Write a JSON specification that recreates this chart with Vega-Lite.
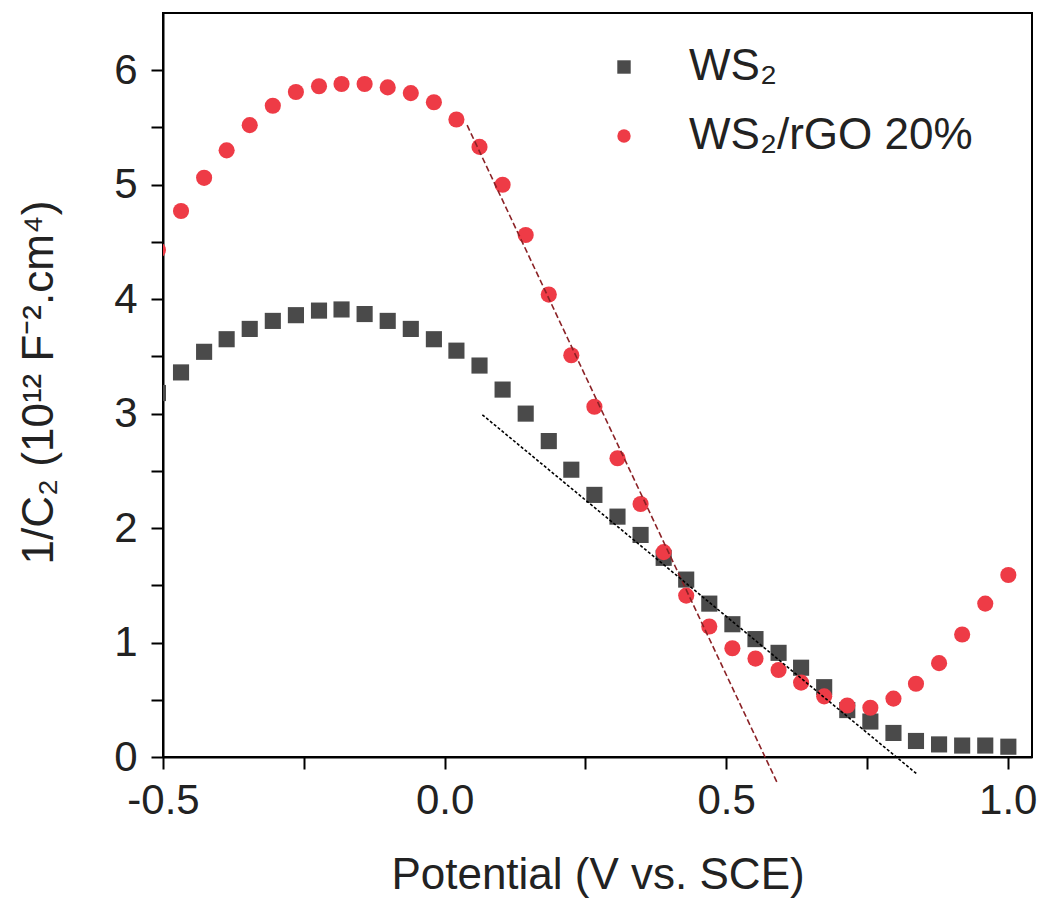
{
  "$schema": "https://vega.github.io/schema/vega-lite/v6.json",
  "width": 869,
  "height": 744,
  "autosize": {"type": "none"},
  "padding": {"left": 163, "top": 13, "right": 8, "bottom": 144},
  "background": "white",
  "config": {
    "view": {"stroke": "black", "strokeWidth": 2},
    "font": "Liberation Sans",
    "axis": {
      "grid": false,
      "domainColor": "black",
      "domainWidth": 2,
      "tickColor": "black",
      "tickWidth": 2,
      "tickSize": 12,
      "labelFont": "Liberation Sans",
      "labelFontSize": 42,
      "labelColor": "#222",
      "titleFont": "Liberation Sans",
      "titleFontSize": 44,
      "titleFontWeight": "normal",
      "titleColor": "#222"
    }
  },
  "datasets": {
    "pts": [
      {"sample": "WS₂", "potential": -0.509, "invC2": 3.18},
      {"sample": "WS₂", "potential": -0.468, "invC2": 3.36},
      {"sample": "WS₂", "potential": -0.427, "invC2": 3.54},
      {"sample": "WS₂", "potential": -0.387, "invC2": 3.65},
      {"sample": "WS₂", "potential": -0.346, "invC2": 3.74},
      {"sample": "WS₂", "potential": -0.305, "invC2": 3.81},
      {"sample": "WS₂", "potential": -0.264, "invC2": 3.86},
      {"sample": "WS₂", "potential": -0.223, "invC2": 3.90},
      {"sample": "WS₂", "potential": -0.183, "invC2": 3.91},
      {"sample": "WS₂", "potential": -0.142, "invC2": 3.87},
      {"sample": "WS₂", "potential": -0.101, "invC2": 3.81},
      {"sample": "WS₂", "potential": -0.060, "invC2": 3.74},
      {"sample": "WS₂", "potential": -0.019, "invC2": 3.65},
      {"sample": "WS₂", "potential": 0.021, "invC2": 3.55},
      {"sample": "WS₂", "potential": 0.062, "invC2": 3.42},
      {"sample": "WS₂", "potential": 0.103, "invC2": 3.21},
      {"sample": "WS₂", "potential": 0.144, "invC2": 3.00},
      {"sample": "WS₂", "potential": 0.185, "invC2": 2.76},
      {"sample": "WS₂", "potential": 0.225, "invC2": 2.51},
      {"sample": "WS₂", "potential": 0.266, "invC2": 2.29},
      {"sample": "WS₂", "potential": 0.307, "invC2": 2.10},
      {"sample": "WS₂", "potential": 0.348, "invC2": 1.94},
      {"sample": "WS₂", "potential": 0.389, "invC2": 1.74},
      {"sample": "WS₂", "potential": 0.429, "invC2": 1.55},
      {"sample": "WS₂", "potential": 0.470, "invC2": 1.34},
      {"sample": "WS₂", "potential": 0.511, "invC2": 1.16},
      {"sample": "WS₂", "potential": 0.552, "invC2": 1.03},
      {"sample": "WS₂", "potential": 0.593, "invC2": 0.91},
      {"sample": "WS₂", "potential": 0.633, "invC2": 0.78},
      {"sample": "WS₂", "potential": 0.674, "invC2": 0.61},
      {"sample": "WS₂", "potential": 0.715, "invC2": 0.41},
      {"sample": "WS₂", "potential": 0.756, "invC2": 0.31},
      {"sample": "WS₂", "potential": 0.797, "invC2": 0.21},
      {"sample": "WS₂", "potential": 0.837, "invC2": 0.14},
      {"sample": "WS₂", "potential": 0.878, "invC2": 0.11},
      {"sample": "WS₂", "potential": 0.919, "invC2": 0.10},
      {"sample": "WS₂", "potential": 0.960, "invC2": 0.10},
      {"sample": "WS₂", "potential": 1.001, "invC2": 0.09},
      {"sample": "WS₂/rGO 20%", "potential": -0.509, "invC2": 4.43},
      {"sample": "WS₂/rGO 20%", "potential": -0.468, "invC2": 4.77},
      {"sample": "WS₂/rGO 20%", "potential": -0.427, "invC2": 5.06},
      {"sample": "WS₂/rGO 20%", "potential": -0.387, "invC2": 5.30},
      {"sample": "WS₂/rGO 20%", "potential": -0.346, "invC2": 5.52},
      {"sample": "WS₂/rGO 20%", "potential": -0.305, "invC2": 5.69},
      {"sample": "WS₂/rGO 20%", "potential": -0.264, "invC2": 5.81},
      {"sample": "WS₂/rGO 20%", "potential": -0.223, "invC2": 5.86},
      {"sample": "WS₂/rGO 20%", "potential": -0.183, "invC2": 5.88},
      {"sample": "WS₂/rGO 20%", "potential": -0.142, "invC2": 5.88},
      {"sample": "WS₂/rGO 20%", "potential": -0.101, "invC2": 5.85},
      {"sample": "WS₂/rGO 20%", "potential": -0.060, "invC2": 5.80},
      {"sample": "WS₂/rGO 20%", "potential": -0.019, "invC2": 5.72},
      {"sample": "WS₂/rGO 20%", "potential": 0.021, "invC2": 5.57},
      {"sample": "WS₂/rGO 20%", "potential": 0.062, "invC2": 5.33},
      {"sample": "WS₂/rGO 20%", "potential": 0.103, "invC2": 5.00},
      {"sample": "WS₂/rGO 20%", "potential": 0.144, "invC2": 4.56},
      {"sample": "WS₂/rGO 20%", "potential": 0.185, "invC2": 4.04},
      {"sample": "WS₂/rGO 20%", "potential": 0.225, "invC2": 3.51},
      {"sample": "WS₂/rGO 20%", "potential": 0.266, "invC2": 3.06},
      {"sample": "WS₂/rGO 20%", "potential": 0.307, "invC2": 2.61},
      {"sample": "WS₂/rGO 20%", "potential": 0.348, "invC2": 2.21},
      {"sample": "WS₂/rGO 20%", "potential": 0.389, "invC2": 1.79},
      {"sample": "WS₂/rGO 20%", "potential": 0.429, "invC2": 1.41},
      {"sample": "WS₂/rGO 20%", "potential": 0.470, "invC2": 1.14},
      {"sample": "WS₂/rGO 20%", "potential": 0.511, "invC2": 0.95},
      {"sample": "WS₂/rGO 20%", "potential": 0.552, "invC2": 0.86},
      {"sample": "WS₂/rGO 20%", "potential": 0.593, "invC2": 0.76},
      {"sample": "WS₂/rGO 20%", "potential": 0.633, "invC2": 0.65},
      {"sample": "WS₂/rGO 20%", "potential": 0.674, "invC2": 0.53},
      {"sample": "WS₂/rGO 20%", "potential": 0.715, "invC2": 0.45},
      {"sample": "WS₂/rGO 20%", "potential": 0.756, "invC2": 0.43},
      {"sample": "WS₂/rGO 20%", "potential": 0.797, "invC2": 0.51},
      {"sample": "WS₂/rGO 20%", "potential": 0.837, "invC2": 0.64},
      {"sample": "WS₂/rGO 20%", "potential": 0.878, "invC2": 0.82},
      {"sample": "WS₂/rGO 20%", "potential": 0.919, "invC2": 1.07},
      {"sample": "WS₂/rGO 20%", "potential": 0.960, "invC2": 1.34},
      {"sample": "WS₂/rGO 20%", "potential": 1.001, "invC2": 1.59}
    ],
    "fits": [
      {"fit": "rGO", "potential": 0.040, "invC2": 5.52},
      {"fit": "rGO", "potential": 0.592, "invC2": -0.24},
      {"fit": "WS2", "potential": 0.067, "invC2": 2.99},
      {"fit": "WS2", "potential": 0.839, "invC2": -0.15}
    ]
  },
  "layer": [
    {
      "data": {"name": "pts"},
      "mark": {"type": "point", "filled": true, "opacity": 1, "size": 260, "clip": true},
      "encoding": {
        "x": {
          "field": "potential",
          "type": "quantitative",
          "scale": {"domain": [-0.5, 1.043], "nice": false, "zero": false},
          "axis": {
            "values": [-0.5, -0.25, 0, 0.25, 0.5, 0.75, 1],
            "labelExpr": "abs(datum.value*2-round(datum.value*2))<0.01 ? (datum.value < 0 ? '-' : '') + format(abs(datum.value), '.1f') : ''",
            "labelPadding": 11,
            "labelFlush": false,
            "title": "Potential (V vs. SCE)",
            "titleY": 118,
            "titleBaseline": "middle",
            "encode": {"ticks": {"update": {"y2": {"signal": "abs(datum.value*2-round(datum.value*2))<0.01 ? 12 : 7"}}}}
          }
        },
        "y": {
          "field": "invC2",
          "type": "quantitative",
          "scale": {"domain": [0, 6.5], "nice": false},
          "axis": {
            "values": [0, 0.5, 1, 1.5, 2, 2.5, 3, 3.5, 4, 4.5, 5, 5.5, 6],
            "labelExpr": "abs(datum.value-round(datum.value))<0.01 ? format(datum.value, 'd') : ''",
            "labelPadding": 14,
            "labelFlush": false,
            "title": "1/C₂ (10¹² F⁻².cm⁴)",
            "titleX": -124,
            "titleY": 369,
            "titleAngle": -90,
            "titleAlign": "center",
            "titleBaseline": "middle",
            "encode": {"ticks": {"update": {"x2": {"signal": "abs(datum.value-round(datum.value))<0.01 ? -12 : -7"}}}}
          }
        },
        "color": {
          "field": "sample",
          "type": "nominal",
          "scale": {"domain": ["WS₂", "WS₂/rGO 20%"], "range": ["#4a4a4a", "#ee3b46"]},
          "legend": {
            "title": null,
            "orient": "none",
            "legendX": 439,
            "legendY": 32,
            "padding": 0,
            "labelFont": "Liberation Sans",
            "labelFontSize": 44,
            "labelColor": "#222",
            "labelLimit": 0,
            "labelOffset": 43,
            "symbolSize": 180,
            "rowPadding": 25,
            "symbolStrokeWidth": 0
          }
        },
        "shape": {
          "field": "sample",
          "type": "nominal",
          "scale": {"domain": ["WS₂", "WS₂/rGO 20%"], "range": ["square", "circle"]}
        }
      }
    },
    {
      "data": {"name": "fits"},
      "transform": [{"filter": "datum.fit === 'rGO'"}],
      "mark": {"type": "line", "color": "#8b2226", "strokeWidth": 1.6, "strokeDash": [6, 3], "clip": false},
      "encoding": {
        "x": {"field": "potential", "type": "quantitative"},
        "y": {"field": "invC2", "type": "quantitative"}
      }
    },
    {
      "data": {"name": "fits"},
      "transform": [{"filter": "datum.fit === 'WS2'"}],
      "mark": {"type": "line", "color": "#000000", "strokeWidth": 1.6, "strokeDash": [3, 2], "clip": false},
      "encoding": {
        "x": {"field": "potential", "type": "quantitative"},
        "y": {"field": "invC2", "type": "quantitative"}
      }
    }
  ]
}
